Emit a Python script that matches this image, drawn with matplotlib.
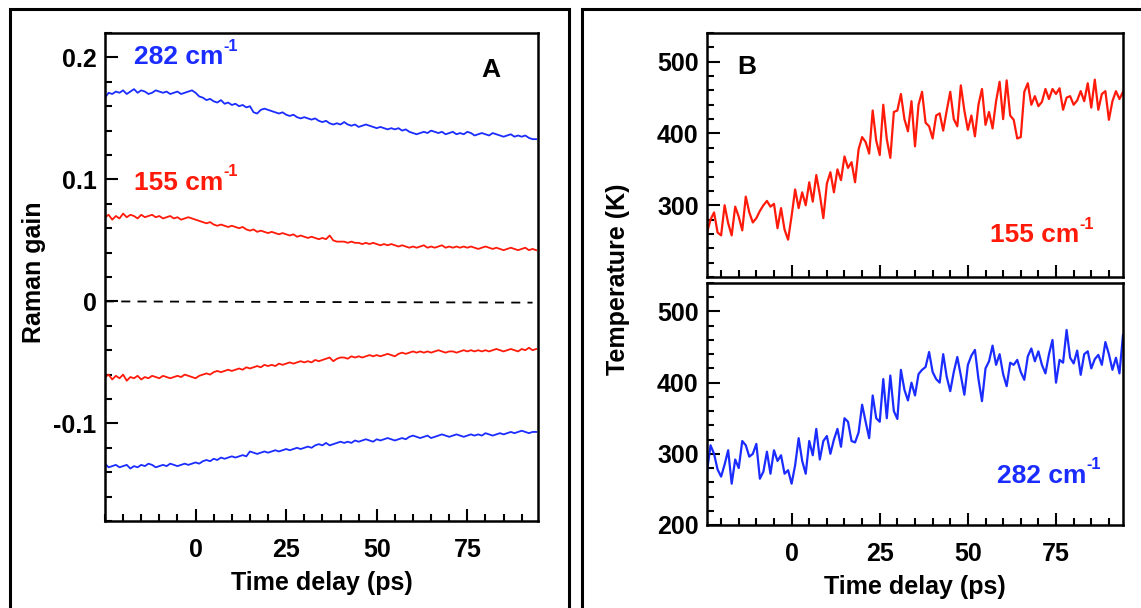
import numpy as np
import matplotlib
matplotlib.use("Agg")
import matplotlib.pyplot as plt
from matplotlib.patches import Rectangle
from matplotlib.ticker import MultipleLocator

plt.rcParams["font.family"] = ["Liberation Sans", "DejaVu Sans"]
plt.rcParams["font.weight"] = "bold"

BLUE = "#1a2cff"
RED = "#ff1a0a"

# ---- panel A data: Raman gain (x 1e-3), time delay -25..94 ps ----
t_a = np.arange(-25, 95)

gain_282_pos = [
    167, 171, 170, 172, 171, 173, 170, 172, 174, 171, 173, 172, 170, 171, 173, 172, 171, 172, 170, 171, 172, 170, 171, 172, 173,
    171, 168, 167, 165, 166, 164, 163, 165, 162, 163, 161,
    162, 160, 161, 159, 160, 155, 154, 157, 158, 157,
    156, 155, 154, 155, 153, 152, 153, 151, 150, 151,
    150, 149, 150, 148, 147, 148, 146, 145, 146, 145,
    147, 145, 144, 145, 143, 144, 145, 144, 143, 142,
    143, 142, 141, 142, 141, 142, 140, 141, 139, 138,
    137, 138, 139, 138, 140, 139, 138, 139, 137, 138,
    139, 137, 138, 137, 139, 138, 136, 137, 138, 137,
    136, 138, 137, 136, 135, 136, 137, 135, 136, 135, 136, 134, 133, 133,
]
gain_155_pos = [
    69, 71, 67, 70, 68, 72, 69, 71, 70, 68, 71, 69, 70, 71, 69, 70, 68, 69, 70, 68, 69, 67, 68, 69, 68,
    67, 66, 65, 64, 65, 63, 62, 63, 62, 61, 62,
    61, 60, 61, 59, 58, 59, 57, 58, 57, 56,
    57, 56, 55, 56, 55, 54, 55, 53, 54, 53,
    52, 53, 52, 51, 52, 51, 54, 50, 49, 49,
    49, 48, 49, 48, 48, 47, 48, 47, 48, 47,
    46, 47, 46, 47, 46, 45, 46, 45, 44, 45,
    44, 45, 46, 44, 45, 44, 45, 46, 44, 45,
    44, 45, 44, 45, 44, 45, 44, 43, 44, 45,
    44, 43, 44, 43, 42, 43, 44, 43, 42, 43, 44, 42, 43, 42,
]
gain_155_neg = [
    -62, -60, -64, -61, -63, -60, -65, -62, -63, -61, -64, -62, -63, -61, -62, -63, -61, -62, -63, -62, -61, -62, -60, -61, -62,
    -63, -61, -60, -59, -60, -58, -57, -58, -57, -56, -57,
    -56, -55, -56, -54, -55, -54, -53, -54, -52, -53,
    -52, -53, -51, -52, -51, -50, -51, -50, -49, -50,
    -49, -50, -48, -49, -48, -47, -46, -49, -47, -46,
    -46, -47, -45, -46, -45, -46, -45, -44, -45, -44,
    -45, -44, -43, -44, -45, -43, -42, -43, -42, -41,
    -42, -41, -42, -41, -42, -41, -40, -41, -42, -41,
    -41, -42, -41, -40, -41, -40, -41, -40, -41, -40,
    -41, -40, -39, -40, -41, -40, -39, -40, -41, -39, -40, -38, -40, -39,
]
gain_282_neg = [
    -133, -136, -135, -134, -136, -135, -134, -137, -135, -136, -134, -135, -133, -134, -136, -135, -134, -135, -133, -134, -135, -134, -133, -134, -133,
    -132, -133, -131, -130, -131, -129, -130, -128, -129, -128, -127,
    -128, -127, -126, -127, -123, -124, -125, -124, -123, -124,
    -123, -122, -123, -122, -121, -122, -121, -120, -121, -120,
    -119, -120, -118, -117, -118, -116, -118, -117, -116, -115,
    -116, -115, -116, -114, -115, -114, -113, -114, -115, -113,
    -114, -113, -112, -113, -114, -113, -112, -113, -111, -110,
    -111, -112, -111, -110, -112, -111, -110, -109, -110, -111,
    -110, -109, -110, -111, -110, -109, -110, -109, -110, -108,
    -109, -110, -109, -108, -109, -108, -107, -108, -107, -106, -107, -108, -107, -107,
]
zero_t = [-25, 93]
zero_gain = [0.0, -0.001]

# ---- panel B data: temperature (K), time delay -24..94 ps ----
t_b = np.arange(-24, 95)

temp_155 = [
    262, 280, 290, 262, 258, 300, 275, 258, 298, 284, 265, 312, 290, 276, 282, 292, 300, 306, 298, 302, 268, 296, 266, 252,
    285, 322, 296, 318, 300, 332, 305, 342, 315, 282,
    330, 346, 318, 350, 335, 368, 352, 360, 332, 378,
    395, 388, 372, 432, 390, 370, 440, 392, 366, 430,
    432, 455, 420, 403, 445, 382, 440, 458, 415, 410,
    393, 425, 428, 404, 432, 458, 420, 410, 467, 432,
    405, 425, 396, 440, 462, 412, 430, 407, 445, 472,
    420, 474, 425, 419, 393, 395, 458, 470, 440, 452,
    438, 444, 462, 448, 462, 455, 463, 433, 450, 452,
    440, 446, 459, 445, 470, 436, 475, 433, 455, 459,
    419, 445, 459, 448, 458,
]
temp_282 = [
    275, 312, 300, 278, 268, 285, 305, 258, 292, 280, 318, 312, 296, 300, 314, 265, 275, 303, 272, 305, 290, 298, 272, 277,
    258, 284, 322, 290, 272, 318, 298, 335, 292, 318,
    325, 300, 320, 335, 310, 350, 345, 318, 316, 330,
    369, 345, 322, 382, 350, 345, 405, 350, 410, 360,
    349, 418, 390, 375, 400, 382, 412, 418, 422, 443,
    415, 405, 400, 440, 408, 388, 415, 436, 410, 383,
    425, 438, 446, 405, 374, 420, 430, 452, 425, 440,
    412, 395, 428, 425, 432, 415, 404, 437, 448, 430,
    444, 425, 413, 440, 460, 400, 432, 428, 474, 435,
    427, 445, 411, 440, 444, 420, 433, 439, 425, 457,
    440, 418, 435, 413, 467,
]

xticks = [0, 25, 50, 75]
yticks_a = [-0.1, 0, 0.1, 0.2]
yticklabels_a = ["-0.1", "0", "0.1", "0.2"]

W, H = 1141, 608
TICK_FS = 18
LABEL_FS = 18
NOTE_FS = 19
fig = plt.figure(figsize=(W / 100, H / 100), dpi=100)


def frac(left, top, right, bottom):
    return [left / W, 1 - bottom / H, (right - left) / W, (bottom - top) / H]


def style(ax, xminor, yminor):
    for s in ax.spines.values():
        s.set_linewidth(1.8)
    ax.tick_params(which="both", direction="in", top=False, right=False, width=1.5)
    ax.tick_params(which="major", length=9, labelsize=TICK_FS)
    ax.tick_params(axis="x", which="major", pad=12)
    ax.tick_params(axis="y", which="major", pad=6)
    ax.tick_params(which="minor", length=5)
    ax.xaxis.set_minor_locator(MultipleLocator(xminor))
    ax.yaxis.set_minor_locator(MultipleLocator(yminor))
    for lab in ax.get_xticklabels() + ax.get_yticklabels():
        lab.set_fontweight("bold")


def wavenumber(ax, x, y, num, color, ha="left"):
    t = ax.text(x, y, num + " cm", color=color, fontsize=NOTE_FS, ha=ha, va="center",
                fontweight="bold")
    ax.annotate("-1", xy=(1.0, 0.66), xycoords=t, color=color, fontsize=NOTE_FS * 0.62,
                ha="left", va="bottom", fontweight="bold")


# ---- panel A ----
axA = fig.add_axes(frac(105, 33, 538, 521))
axA.plot(t_a, np.array(gain_282_pos) / 1000, color=BLUE, lw=1.3)
axA.plot(t_a, np.array(gain_155_pos) / 1000, color=RED, lw=1.3)
axA.plot(t_a, np.array(gain_155_neg) / 1000, color=RED, lw=1.3)
axA.plot(t_a, np.array(gain_282_neg) / 1000, color=BLUE, lw=1.3)
axA.plot(zero_t, zero_gain, color="black", lw=1.3, ls=(0, (5, 4)))
axA.set_xlim(-25, 94.5)
axA.set_ylim(-0.18, 0.22)
axA.set_xticks(xticks)
axA.set_yticks(yticks_a)
axA.set_yticklabels(yticklabels_a)
style(axA, 5, 0.02)
axA.set_xlabel("Time delay (ps)", fontsize=LABEL_FS, fontweight="bold", labelpad=7)
axA.set_ylabel("Raman gain", fontsize=LABEL_FS, fontweight="bold")
axA.yaxis.set_label_coords((46 - 105) / 433, 0.51)
wavenumber(axA, -17, 0.2, "282", BLUE)
wavenumber(axA, -17, 0.097, "155", RED)
axA.text(79, 0.19, "A", fontsize=NOTE_FS, fontweight="bold", va="center")

# ---- panel B ----
axB1 = fig.add_axes(frac(707, 33, 1123, 277))
axB2 = fig.add_axes(frac(707, 283, 1123, 525))
axB1.plot(t_b, temp_155, color=RED, lw=1.6)
axB2.plot(t_b, temp_282, color=BLUE, lw=1.6)
for ax in (axB1, axB2):
    ax.set_xlim(-24, 94)
    ax.set_ylim(200, 540)
    ax.set_xticks(xticks)
axB1.set_yticks([300, 400, 500])
axB1.set_xticklabels([])
axB2.set_yticks([200, 300, 400, 500])
style(axB1, 5, 20)
style(axB2, 5, 20)
axB2.set_xlabel("Time delay (ps)", fontsize=LABEL_FS, fontweight="bold", labelpad=7)
axB1.text(-15.5, 492, "B", fontsize=NOTE_FS, fontweight="bold", va="center")
wavenumber(axB1, 69, 258, "155", RED, ha="center")
wavenumber(axB2, 71, 269, "282", BLUE, ha="center")
fig.text(618 / W, 1 - 279 / H, "Temperature (K)", rotation=90, fontsize=LABEL_FS,
         fontweight="bold", ha="center", va="center")

# panel frames
fig.patches.append(Rectangle((10 / W, -0.1), 559 / W, 1.1 - 9 / H, fill=False, lw=2.2,
                             edgecolor="black", transform=fig.transFigure))
fig.patches.append(Rectangle((582 / W, -0.1), 0.6, 1.1 - 9 / H, fill=False, lw=2.2,
                             edgecolor="black", transform=fig.transFigure))

fig.savefig("out.png", dpi=100)
